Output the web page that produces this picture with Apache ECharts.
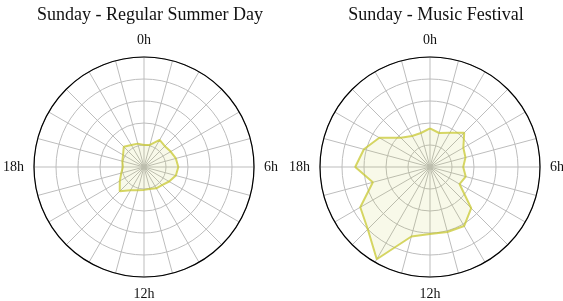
<!DOCTYPE html>
<html>
<head>
<meta charset="utf-8">
<script src="https://cdn.jsdelivr.net/npm/echarts@6/dist/echarts.min.js"></script>
<style>html,body{margin:0;padding:0;background:#fff}#c{width:563px;height:301px}</style>
</head>
<body>
<div id="c"></div>
<script>
const hours = [0,1,2,3,4,5,6,7,8,9,10,11,12,13,14,15,16,17,18,19,20,21,22,23];
const tickLabels = ['0h','6h','12h','18h'];
const titles = ['Sunday - Regular Summer Day', 'Sunday - Music Festival'];
const regularDay = [1.0,1.04,1.42,1.34,1.4,1.5,1.56,1.5,1.32,1.16,1.12,1.04,1.04,1.09,1.22,1.56,1.27,1.07,0.96,1.02,1.1,1.3,1.15,1.1];
const festival = [1.76,1.6,1.8,2.2,1.75,1.67,1.51,1.68,1.55,2.65,3.1,3.06,3.05,3.27,4.84,4.0,3.66,2.69,3.4,3.11,2.66,1.88,1.63,1.6];

function closed(vals){
  const d = hours.map((h,i)=>[vals[i], h]);
  d.push([vals[0], 24]);
  return d;
}
const serif = '"Liberation Serif", "DejaVu Serif", serif';
function polarAxes(idx){
  return {
    angle: {
      polarIndex: idx, type: 'value', min: 0, max: 24, interval: 1,
      startAngle: 90, clockwise: true,
      axisLine: {show: true, lineStyle: {color: '#000', width: 1.2}},
      axisTick: {show: false},
      splitLine: {show: true, lineStyle: {color: '#bdbdbd', width: 1}},
      axisLabel: {
        margin: 10, color: '#111', fontFamily: serif, fontSize: 14,
        formatter: v => (v % 6 === 0 && v < 24) ? tickLabels[v/6] : ''
      }
    },
    radius: {
      polarIndex: idx, type: 'value', min: 0, max: 5, interval: 1,
      axisLine: {show: false}, axisTick: {show: false}, axisLabel: {show: false},
      splitLine: {show: true, lineStyle: {color: '#bdbdbd', width: 1}}
    }
  };
}
const a0 = polarAxes(0), a1 = polarAxes(1);
function series(idx, vals){
  return {
    type: 'line', coordinateSystem: 'polar', polarIndex: idx,
    data: closed(vals), symbol: 'none', smooth: false,
    lineStyle: {color: 'rgba(200,200,50,0.75)', width: 2},
    areaStyle: {color: 'rgba(188,189,34,0.14)'},
    z: 1
  };
}
const chart = echarts.init(document.getElementById('c'), null, {renderer: 'canvas'});
chart.setOption({
  animation: false,
  title: [
    {text: titles[0], left: 145, top: 1, textAlign: 'center', textStyle: {fontFamily: serif, fontSize: 18, fontWeight: 'normal', color: '#111'}},
    {text: titles[1], left: 431, top: 1, textAlign: 'center', textStyle: {fontFamily: serif, fontSize: 18, fontWeight: 'normal', color: '#111'}}
  ],
  polar: [
    {center: [144, 167], radius: 110},
    {center: [430, 167], radius: 110}
  ],
  angleAxis: [a0.angle, a1.angle],
  radiusAxis: [a0.radius, a1.radius],
  series: [series(0, regularDay), series(1, festival)]
});
</script>
</body>
</html>
